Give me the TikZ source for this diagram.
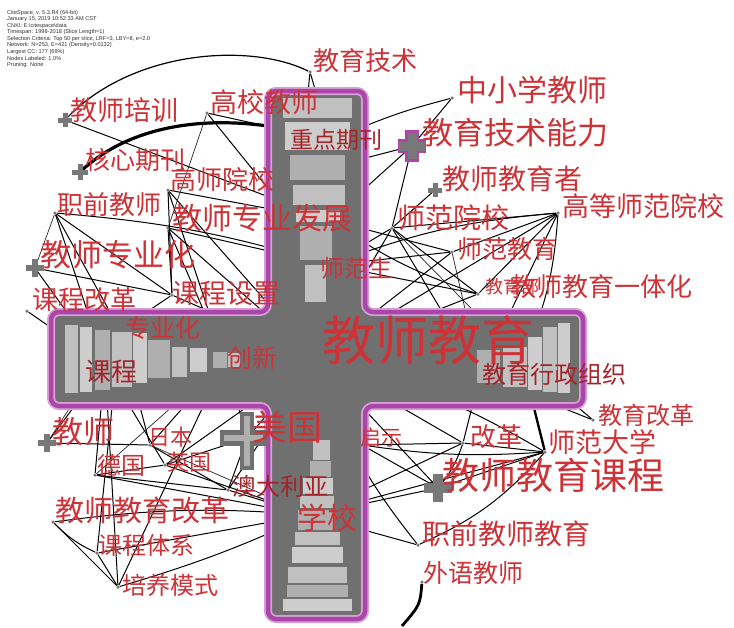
\documentclass[tikz,border=0pt]{standalone}
\usepackage{fontspec}
\setmainfont{Noto Sans CJK SC}
\newfontfamily\latinfont{Liberation Sans}
\definecolor{lblred}{RGB}{205,50,55}
\definecolor{lbldark}{RGB}{165,35,40}
\definecolor{crossgray}{RGB}{112,112,112}
\definecolor{ringA}{RGB}{192,192,192}
\definecolor{ringB}{RGB}{175,175,175}
\definecolor{ringC}{RGB}{205,205,205}
\definecolor{purp}{RGB}{170,70,170}
\definecolor{purplt}{RGB}{215,160,215}
\definecolor{nodegray}{RGB}{120,120,120}
\newcommand\fsz[1]{\fontsize{#1}{#1}\selectfont}
\newcommand\plusat[4]{%
  \fill[#4] (#1) ++(-#2,-#3) rectangle ++(2*#2,2*#3);
  \fill[#4] (#1) ++(-#3,-#2) rectangle ++(2*#3,2*#2);}
\tikzset{
  lbl/.style={anchor=west, inner sep=0pt, text=lblred},
  dlbl/.style={anchor=west, inner sep=0pt, text=lbldark},
  edge/.style={draw=black, line width=1pt},
  fedge/.style={draw=black!85, line width=0.7pt},
  dot/.style={circle, fill=nodegray, inner sep=0pt, minimum size=3.5pt},
  legend/.style={anchor=west, inner sep=0pt, font=\latinfont\fontsize{5.6}{6}\selectfont, text=black!80},
}
\begin{document}
\begin{tikzpicture}[x=1pt,y=-1pt]
\useasboundingbox (0,0) rectangle (734,627);
\fill[white] (0,0) rectangle (734,627);

% ---------- node positions ----------
\coordinate (jxpx) at (65,120);
\coordinate (hxqk) at (80,172);
\coordinate (jszyh) at (35,268);
\coordinate (js) at (47,443);
\coordinate (mg) at (247,438);
\coordinate (jyjsnl) at (412,146);
\coordinate (jsjyz) at (435,190);
\coordinate (jsjykc) at (438,488);
\node[dot] (jyjs) at (310,72) {};
\node[dot] (gxjs) at (207,113) {};
\node[dot] (gsyx) at (168,190) {};
\node[dot] (zqjs) at (55,213) {};
\node[dot] (jszyfz) at (168,228) {};
\node[dot] (kcgg) at (27,311) {};
\node[dot] (kcsz) at (172,295) {};
\node[dot] (zxxjs) at (452,98) {};
\node[dot] (gdsfyx) at (558,213) {};
\node[dot] (sfyx) at (392,228) {};
\node[dot] (sfjy) at (452,252) {};
\node[dot] (yth) at (478,294) {};
\node[dot] (jygg) at (593,420) {};
\node[dot] (sfdx) at (545,452) {};
\node[dot] (gg) at (463,443) {};
\node[dot] (zqjsjy) at (418,545) {};
\node[dot] (wyjs) at (422,582) {};
\node[dot] (rb) at (150,445) {};
\node[dot] (dg) at (95,475) {};
\node[dot] (yg) at (165,465) {};
\node[dot] (jsjygg) at (53,522) {};
\node[dot] (kctx) at (97,553) {};
\node[dot] (pyms) at (118,587) {};
\node[dot] (adly) at (228,490) {};
\node[dot] (qs) at (362,445) {};
\coordinate (hub) at (316,358);
\coordinate (zdqk) at (330,140);
\coordinate (zdqkb) at (300,175);
\coordinate (zyfz) at (330,220);
\coordinate (sfs) at (330,265);
\coordinate (zyh) at (120,330);
\coordinate (kc) at (105,365);
\coordinate (cx) at (225,360);
\coordinate (xx) at (310,515);
\coordinate (jyxzzz) at (480,375);
\coordinate (rr) at (522,360);
\coordinate (wyend) at (402,626);

% ---------- connectors ----------
\draw[edge,line width=1.2pt] (jxpx) .. controls (130,50) and (250,42) .. (jyjs);
\draw[edge] (jyjs) -- (zdqk);
\draw[edge] (jyjs) -- (zdqkb);
\draw[edge] (gxjs) -- (zdqk);
\draw[edge] (gxjs) -- (sfs);
\draw[edge] (jxpx) -- (zyfz);
\draw[edge,line width=3.2pt] (hxqk) .. controls (140,115) and (240,112) .. (zdqk);
\draw[edge] (gsyx) -- (zyfz);
\draw[edge] (gsyx) -- (hub);
\draw[edge] (gsyx) -- (kcsz);
\draw[edge] (gsyx) -- (cx);
\draw[edge] (zqjs) to[bend left=6] (sfs);
\draw[edge] (zqjs) -- (kcsz);
\draw[edge] (zqjs) -- (zyh);
\draw[edge] (zqjs) -- (kc);
\draw[edge] (jszyfz) -- (kcsz);
\draw[edge] (jszyfz) -- (cx);
\draw[edge] (jszyfz) -- (hub);
\draw[edge] (jszyfz) -- (sfs);
\draw[edge] (jszyh) -- (kc);
\draw[edge] (jszyh) -- (kcsz);
\draw[edge] (kcgg) -- (kc);
\draw[edge] (kcsz) -- (hub);
\draw[edge] (kcsz) -- (zyh);
\draw[fedge] (zqjs) -- (jszyh);
\draw[fedge] (gxjs) -- (jszyfz);
\draw[edge] (zdqk) .. controls (400,112) .. (zxxjs);
\draw[edge] (zxxjs) -- (jyjsnl);
\draw[edge] (jyjsnl) -- (zdqkb);
\draw[edge] (jyjsnl) -- (zyfz);
\draw[edge] (jyjsnl) -- (sfyx);
\draw[edge] (jsjyz) -- (sfyx);
\draw[edge] (sfyx) -- (sfs);
\draw[edge] (sfyx) -- (hub);
\draw[edge] (sfyx) -- (yth);
\draw[edge] (sfyx) -- (jyxzzz);
\draw[edge] (gdsfyx) -- (sfyx);
\draw[edge] (gdsfyx) to[bend right=8] (sfs);
\draw[edge] (gdsfyx) -- (yth);
\draw[edge] (gdsfyx) -- (hub);
\draw[edge] (gdsfyx) -- (jyxzzz);
\draw[edge] (gdsfyx) -- (sfjy);
\draw[edge] (gdsfyx) to[bend left=10] (rr);
\draw[edge] (sfjy) -- (hub);
\draw[edge] (sfjy) -- (sfs);
\draw[edge] (sfjy) -- (zyfz);
\draw[edge] (yth) -- (hub);
\draw[edge] (yth) -- (sfs);
\draw[edge] (yth) to[bend left=8] (zyfz);
\draw[fedge] (sfyx) -- (rr);
\draw[fedge] (sfjy) -- (jyxzzz);
\draw[edge] (jygg) -- (jyxzzz);
\draw[edge] (jygg) -- (rr);
\draw[edge,line width=2.4pt] (sfdx) -- (rr);
\draw[edge] (sfdx) -- (gg);
\draw[edge] (sfdx) to[bend left=6] (qs);
\draw[edge] (sfdx) -- (jsjykc);
\draw[edge] (sfdx) to[bend right=8] (hub);
\draw[edge] (sfdx) -- (xx);
\draw[edge] (gg) -- (hub);
\draw[edge] (gg) -- (qs);
\draw[edge] (gg) -- (xx);
\draw[edge] (gg) -- (jyxzzz);
\draw[edge] (jsjykc) -- (hub);
\draw[edge] (jsjykc) -- (xx);
\draw[edge] (jsjykc) -- (qs);
\draw[edge] (jsjykc) to[bend right=10] (gg);
\draw[edge] (zqjsjy) -- (xx);
\draw[edge] (zqjsjy) to[bend left=10] (hub);
\draw[edge] (zqjsjy) to[bend right=12] (sfdx);
\draw[edge,line width=2.8pt] (wyjs) .. controls (420,605) .. (wyend);
\draw[edge] (js) -- (kc);
\draw[edge] (js) -- (rb);
\draw[edge] (rb) -- (cx);
\draw[edge] (rb) -- (adly);
\draw[edge] (rb) -- (zyh);
\draw[edge] (dg) -- (adly);
\draw[edge] (dg) -- (xx);
\draw[edge] (dg) -- (kc);
\draw[edge] (dg) -- (yg);
\draw[edge] (yg) -- (mg);
\draw[edge] (yg) -- (hub);
\draw[edge] (yg) -- (kc);
\draw[edge] (yg) -- (xx);
\draw[edge] (adly) -- (mg);
\draw[edge] (adly) -- (xx);
\draw[edge] (adly) -- (hub);
\draw[edge] (jsjygg) to[bend right=10] (kctx);
\draw[edge] (jsjygg) to[bend left=6] (xx);
\draw[edge] (jsjygg) -- (pyms);
\draw[edge] (kctx) -- (xx);
\draw[edge] (kctx) -- (pyms);
\draw[edge] (kctx) -- (zyh);
\draw[edge] (pyms) to[bend right=4] (xx);
\draw[edge] (pyms) -- (kc);
\draw[edge] (pyms) -- (cx);
\draw[edge] (mg) -- (hub);
\draw[edge] (mg) -- (cx);
\draw[fedge] (rb) -- (xx);
\draw[fedge] (dg) -- (cx);
\draw[fedge] (js) -- (zyh);

% ---------- central cross node ----------
\fill[crossgray] (268,91) -- (365,91) -- (365,312) -- (583,312) -- (583,406) -- (365,406)
  -- (365,619) -- (268,619) -- (268,406) -- (51,406) -- (51,312) -- (268,312) -- cycle;
\fill[ringA] (283,98) rectangle (352,118);
\fill[ringC] (285,122) rectangle (350,150);
\fill[ringB] (290,155) rectangle (345,180);
\fill[ringA] (293,185) rectangle (345,205);
\fill[ringC] (296,210) rectangle (340,222);
\fill[ringB] (300,226) rectangle (332,260);
\fill[ringA] (305,265) rectangle (326,302);
\fill[ringA] (313,440) rectangle (330,460);
\fill[ringB] (310,461) rectangle (331,477);
\fill[ringC] (303,478) rectangle (333,494);
\fill[ringA] (300,496) rectangle (334,508);
\fill[ringB] (298,510) rectangle (335,530);
\fill[ringA] (295,532) rectangle (340,545);
\fill[ringC] (292,547) rectangle (343,563);
\fill[ringA] (288,567) rectangle (347,583);
\fill[ringB] (287,585) rectangle (348,597);
\fill[ringC] (283,599) rectangle (352,611);
\fill[ringA] (65,325) rectangle (78,393);
\fill[ringC] (80,327) rectangle (92,392);
\fill[ringB] (95,330) rectangle (110,390);
\fill[ringA] (112,332) rectangle (132,387);
\fill[ringC] (133,333) rectangle (147,383);
\fill[ringB] (148,340) rectangle (170,378);
\fill[ringA] (172,347) rectangle (187,377);
\fill[ringC] (190,348) rectangle (207,372);
\fill[ringB] (213,352) rectangle (227,368);
\fill[ringA] (228,353) rectangle (240,367);
\fill[ringB] (477,350) rectangle (500,383);
\fill[ringA] (503,347) rectangle (527,387);
\fill[ringC] (528,337) rectangle (542,390);
\fill[ringA] (543,327) rectangle (557,392);
\fill[ringC] (558,323) rectangle (570,393);
\draw[purplt,line width=8pt,rounded corners=8pt] (268,91) -- (365,91) -- (365,312) -- (583,312) -- (583,406) -- (365,406)
  -- (365,619) -- (268,619) -- (268,406) -- (51,406) -- (51,312) -- (268,312) -- cycle;
\draw[purp,line width=4.5pt,rounded corners=8pt] (268,91) -- (365,91) -- (365,312) -- (583,312) -- (583,406) -- (365,406)
  -- (365,619) -- (268,619) -- (268,406) -- (51,406) -- (51,312) -- (268,312) -- cycle;

% ---------- cross-shaped nodes ----------
\plusat{jxpx}{7}{2.5}{nodegray}
\plusat{hxqk}{8}{2.5}{nodegray}
\plusat{jszyh}{9}{3}{nodegray}
\plusat{js}{9}{3}{nodegray}
\plusat{jsjyz}{7}{2.5}{nodegray}
\plusat{jsjykc}{14}{5}{nodegray}
\fill[purp] (jyjsnl) ++(-7,-16) rectangle ++(14,32);
\fill[purp] (jyjsnl) ++(-14,-7) rectangle ++(28,14);
\plusat{jyjsnl}{13}{4.5}{nodegray}
\fill[crossgray] (mg) ++(-7,-26) rectangle ++(14,58);
\fill[crossgray] (mg) ++(-27,-8) rectangle ++(47,16);
\fill[ringB] (mg) ++(-3,-22) rectangle ++(6,50);
\fill[ringB] (mg) ++(-23,-3) rectangle ++(39,6);

% ---------- labels ----------
\node[lbl,font=\fsz{26}] (Ljyjs) at (313,61) {教育技术};
\node[lbl,font=\fsz{27}] (Ljxpx) at (70,110) {教师培训};
\node[lbl,font=\fsz{27}] (Lgxjs) at (210,102) {高校教师};
\node[lbl,font=\fsz{25}] (Lhxqk) at (85,160) {核心期刊};
\node[lbl,font=\fsz{26}] (Lgsyx) at (170,180) {高师院校};
\node[lbl,font=\fsz{26}] (Lzqjs) at (57,205) {职前教师};
\node[lbl,font=\fsz{30}] (Ljszyfz) at (172,218) {教师专业发展};
\node[lbl,font=\fsz{31}] (Ljszyh) at (40,255) {教师专业化};
\node[lbl,font=\fsz{26}] (Lkcgg) at (32,300) {课程改革};
\node[lbl,font=\fsz{27}] (Lkcsz) at (172,293) {课程设置};
\node[dlbl,font=\fsz{23}] (Lzdqk) at (290,140) {重点期刊};
\node[lbl,font=\fsz{24}] (Lsfs) at (320,268) {师范生};
\node[lbl,font=\fsz{30}] (Lzxxjs) at (457,90) {中小学教师};
\node[lbl,font=\fsz{31}] (Ljyjsnl) at (422,133) {教育技术能力};
\node[lbl,font=\fsz{28}] (Ljsjyz) at (442,179) {教师教育者};
\node[lbl,font=\fsz{27}] (Lgdsfyx) at (562,206) {高等师范院校};
\node[lbl,font=\fsz{28}] (Lsfyx) at (397,218) {师范院校};
\node[lbl,font=\fsz{25}] (Lsfjy) at (457,249) {师范教育};
\node[lbl,font=\fsz{18}] (Ljyb) at (485,287) {教育部};
\node[lbl,font=\fsz{26}] (Lyth) at (510,287) {教师教育一体化};
\node[lbl,font=\fsz{53}] (Lhub) at (322,340) {教师教育};
\node[dlbl,font=\fsz{24}] (Ljyxzzz) at (482,374) {教育行政组织};
\node[lbl,font=\fsz{24}] (Ljygg) at (598,415) {教育改革};
\node[lbl,font=\fsz{27}] (Lsfdx) at (548,442) {师范大学};
\node[lbl,font=\fsz{26}] (Lgg) at (470,437) {改革};
\node[lbl,font=\fsz{21}] (Lqs) at (360,438) {启示};
\node[lbl,font=\fsz{37}] (Ljsjykc) at (442,475) {教师教育课程};
\node[lbl,font=\fsz{28}] (Lzqjsjy) at (422,534) {职前教师教育};
\node[lbl,font=\fsz{25}] (Lwyjs) at (423,573) {外语教师};
\node[lbl,font=\fsz{25}] (Lzyh) at (125,328) {专业化};
\node[dlbl,font=\fsz{26}] (Lkc) at (85,372) {课程};
\node[lbl,font=\fsz{25}] (Lcx) at (227,358) {创新};
\node[lbl,font=\fsz{35}] (Lmg) at (252,427) {美国};
\node[lbl,font=\fsz{31}] (Ljs) at (52,432) {教师};
\node[lbl,font=\fsz{22}] (Lrb) at (148,437) {日本};
\node[lbl,font=\fsz{24}] (Ldg) at (97,465) {德国};
\node[lbl,font=\fsz{22}] (Lyg) at (167,462) {英国};
\node[dlbl,font=\fsz{24}] (Ladly) at (232,486) {澳大利亚};
\node[lbl,font=\fsz{29}] (Ljsjygg) at (55,510) {教师教育改革};
\node[lbl,font=\fsz{30}] (Lxx) at (297,518) {学校};
\node[lbl,font=\fsz{24}] (Lkctx) at (98,545) {课程体系};
\node[lbl,font=\fsz{24}] (Lpyms) at (122,585) {培养模式};

% ---------- legend ----------
\node[legend] (g1) at (7,13) {CiteSpace, v. 5.3.R4 (64-bit)};
\node[legend] (g2) at (7,19.5) {January 15, 2019 10:52:33 AM CST};
\node[legend] (g3) at (7,26) {CNKI: E:\textbackslash citespace\textbackslash data};
\node[legend] (g4) at (7,32.5) {Timespan: 1998-2018 (Slice Length=1)};
\node[legend] (g5) at (7,39) {Selection Criteria: Top 50 per slice, LRF=3, LBY=8, e=2.0};
\node[legend] (g6) at (7,45.5) {Network: N=253, E=421 (Density=0.0132)};
\node[legend] (g7) at (7,52) {Largest CC: 177 (69\%)};
\node[legend] (g8) at (7,58.5) {Nodes Labeled: 1.0\%};
\node[legend] (g9) at (7,65) {Pruning: None};
\end{tikzpicture}
\end{document}
